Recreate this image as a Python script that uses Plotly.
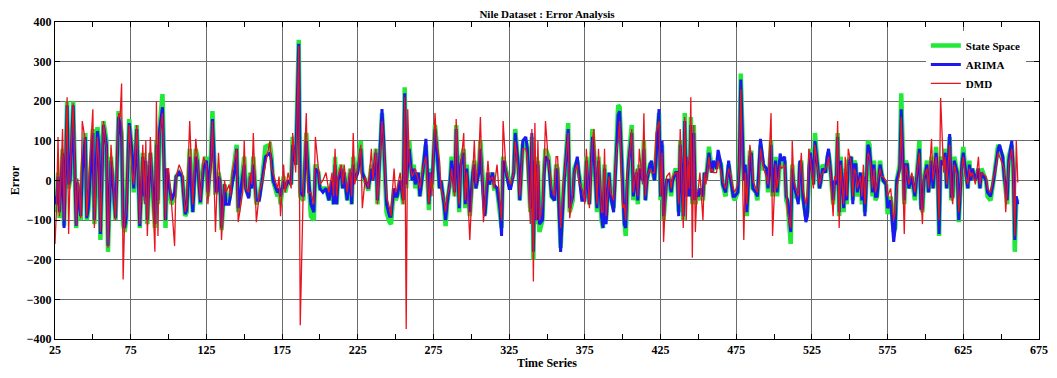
import plotly.graph_objects as go

# time index at the turning points
time_idx = [
    25,26,27,28,30,31,33,34,35,37, 39,40,41,42,43,45,46,47,48,50,
    51,53,54,55,57,59,60,62,63,65, 67,68,69,70,71,72,74,76,77,79,
    81,83,84,85,86,88,91,92,93,94, 96,98,99,100,102,104,105,107,109,111,
    112,114,116,118,119,121,123,125,
    126,128,129,131,132,133,134,135,137,138, 140,141,142,144,145,146,149,150,151,153,
    154,155,156,158,160,162,164,167,168,169, 172,173,174,176,177,179,181,182,184,186,
    187,189,191,192,194,196,197,199,200,202, 204,206,208,209,210,211,212,214,215,216,
    218,220,221,222,223,225,227,228,
    230,232,234,235,237,238,239,241,242,244, 246,247,248,249,250,251,253,255,256,257,
    258,259,261,262,263,265,266,268,270,272, 273,274,276,277,279,280,282,283,284,286,
    287,289,290,292,293,295,296,297,299,301, 302,303,305,306,308,309,311,312,314,315,
    317,319,320,321,323,325,326,328,329,331, 332,334,
    336,337,339,340,341,342,343,344,345,347, 348,349,351,352,353,355,356,357,359,361,
    362,364,365,367,368,370,371,373,374,375, 376,378,380,381,383,384,386,387,388,389,
    391,392,394,396,397,398,400,401,402,403, 404,406,407,409,410,411,413,414,415,416,
    418,419,421,422,424,425,426,427,429,431, 432,433,435,436,437,438,440,441,
    442,443,444,445,446,447,448,449,450,451, 453,454,455,457,458,459,460,462,463,465,
    466,468,470,471,473,474,476,477,478,480, 481,482,484,485,486,488,489,490,491,493,
    495,496,498,499,501,502,504,505,507,508, 509,511,512,513,514,515,516,517,518,519,
    521,522,523,524,526,527,529,530,531,532, 534,535,536,537,539,540,541,542,543,
    544,546,547,548,549,551,552,553,554,555, 557,558,559,560,561,562,563,564,565,566,
    567,568,570,571,572,574,575,577,579,580, 581,583,584,586,587,588,589,591,593,594,
    596,597,598,599,601,602,604,605,607,608, 609,610,612,613,614,616,617,618,619,621,
    622,624,625,626,628,629,630,631,633,635, 636,637,640,641,643,645,646,648,649,
    651,652,653,654,655,657,658,659,660,661,
]

state_space = [
    -30,-80,20,-95,80,-115,200,-20,0,200, -120,-10,-70,-100,30,120,-100,-75,-10,130,
    -110,135,100,-150,150,100,-180,60,0,-100, 175,150,120,-110,-130,-100,155,60,-30,140,
    -120,70,-50,40,-110,70,-120,100,-60,130, 218,-120,20,-10,-60,-40,10,20,10,-90,
    -80,80,-80,80,60,-60,40,60,
    -40,65,175,-30,-30,20,0,-125,-10,-40, -50,-30,0,40,90,-80,20,60,-20,-40,
    20,-20,60,-60,-40,10,85,90,60,0, -40,-20,-60,10,-30,0,-10,110,40,355,
    -40,-50,120,40,-90,-100,40,20,-20,-20, -20,-50,0,-60,60,-60,0,40,-20,20,
    -50,30,-60,60,0,30,100,20,
    0,-25,40,0,80,-60,20,170,100,-80, -105,-110,-60,-20,-50,-40,0,-60,235,-20,
    60,100,0,40,-20,20,-40,20,90,-75, 30,-20,140,100,-20,0,-60,-115,-60,0,
    60,-40,140,-80,50,80,-70,40,-90,20, 50,-20,30,100,-60,-85,20,-10,20,-20,
    -20,-80,-120,60,30,-10,-10,20,130,40, -50,90,
    100,80,-80,110,-200,60,-110,50,-130,-100, 20,80,60,0,-40,-50,40,30,-170,-20,
    50,145,-80,-50,30,50,20,-40,-50,-40, 60,-60,130,80,-80,60,-100,-120,40,-100,
    20,-40,-70,100,190,185,-30,-100,-140,0, 60,140,-50,20,-60,40,0,100,-50,0,
    40,40,0,60,170,-50,90,-100,0,0, -40,0,30,20,-80,100,-100,170,
    -40,60,-40,160,-60,140,-60,-40,-50,-20, -50,20,0,85,40,20,40,30,60,40,
    -10,-40,40,10,-40,-50,-30,50,270,0, 30,-90,70,70,-20,-30,-50,20,90,30,
    30,-30,100,-40,60,-40,50,40,50,-50, -60,-160,40,-10,-40,-40,-50,40,50,-40,
    -90,-80,40,80,-10,120,30,-20,0,40, 20,50,70,40,-60,0,-10,120,-90,
    60,-80,30,-60,50,60,-50,50,40,-40, 20,-60,20,-80,0,100,90,40,-40,50,
    -50,-40,50,20,0,-10,-85,-40,-130,-120, 0,40,220,-60,50,40,-20,10,-50,0,
    100,-60,-80,0,50,-30,60,-20,85,20, -140,60,40,80,-20,110,-50,-40,60,20,
    -105,40,85,40,-20,50,0,30,0,30, -20,30,0,-40,-50,0,30,90,80,
    60,10,-30,-60,60,90,30,-180,-50,-55,
]

arima = [
    -40,-60,10,-80,70,-120,190,-10,0,190, -115,-5,-60,-90,20,110,-95,-70,-5,120,
    -100,125,90,-135,140,90,-165,50,10,-95, 160,140,110,-100,-120,-95,145,65,-20,130,
    -115,60,-40,50,-100,70,-110,90,-50,125, 185,-100,30,-5,-50,-30,10,20,10,-85,
    -75,60,-80,60,50,-55,30,50,
    -30,50,155,-20,-30,10,0,-120,-10,-60, -60,-30,-10,30,80,-70,10,40,-20,-45,
    10,-20,40,-50,-50,0,60,70,50,0, -30,-20,-40,0,-20,0,-10,90,40,345,
    -30,-40,100,30,-60,-80,30,20,-20,-30, -20,-50,0,-60,40,-60,0,30,-20,20,
    -50,20,-60,40,0,20,80,20,
    0,-20,30,0,70,-50,20,180,110,-60, -90,-90,-50,-20,-40,-40,0,-50,220,-10,
    40,80,0,30,-10,20,-40,20,105,-60, 20,-10,130,90,-20,0,-60,-100,-60,0,
    50,-30,130,-70,40,70,-60,30,-80,20, 40,-20,20,80,-50,-90,20,-10,20,-10,
    -20,-75,-140,50,20,-20,-20,20,120,40, -50,100,
    110,80,-70,120,-180,50,-100,40,-110,-100, 10,60,50,0,-40,-50,30,20,-180,-20,
    40,130,-70,-40,20,60,20,-50,-50,-50, 50,-60,110,70,-70,50,-90,-120,30,-110,
    20,-40,-80,100,165,175,-40,-110,-120,0, 50,120,-40,20,-50,30,0,80,-50,0,
    40,50,0,50,180,-40,100,-90,0,0, -30,0,20,20,-90,90,-90,150,
    -40,50,-40,140,-50,120,-50,-30,-40,-20, -40,20,0,70,40,20,50,30,77,40,
    -10,-30,50,10,-40,-40,-30,40,255,0, 40,-80,60,70,-20,-30,-40,20,105,40,
    30,-20,90,-30,50,-30,68,50,60,-40, -50,-130,30,-10,-30,-40,-60,50,40,-40,
    -105,-90,30,70,-10,100,30,-20,0,30, 20,60,80,40,-50,0,-10,110,-80,
    50,-70,20,-50,40,60,-60,40,40,-30, 20,-50,10,-90,0,90,80,40,-30,40,
    -40,-40,40,20,0,-10,-70,-50,-155,-120, 0,30,180,-50,40,40,-20,10,-40,0,
    80,-70,-70,0,40,-30,50,-20,70,20, -135,50,40,70,-20,117,-40,-40,50,20,
    -100,40,70,40,-20,40,0,30,0,30, -20,20,0,-30,-40,0,30,80,90,
    60,10,-20,-50,50,100,30,-150,-40,-60,
]

dmd = [
    -160,-70,110,-90,130,-100,210,-135,20,195, -115,5,-30,-95,150,100,-90,-20,20,180,
    -120,110,50,-130,150,80,-170,90,30,-100, 170,160,245,-250,-100,-80,140,20,-10,140,
    -110,90,-60,100,-140,110,-180,200,-140,110, 170,-100,30,30,-60,-165,10,40,20,-80,
    -60,150,-60,105,60,-50,60,40,
    -60,40,150,-130,-20,70,0,-150,0,-30, -10,-40,20,60,80,-105,-30,100,-20,-30,
    20,-10,120,-105,-30,0,40,100,30,20, -20,10,-90,40,-30,20,-20,120,20,340,
    -365,-20,170,-30,-30,-60,110,20,-10,0, 20,-30,20,-40,80,-40,10,40,-10,40,
    -30,30,-40,120,-10,30,90,-70,
    10,-20,80,0,80,-60,20,150,100,-40, -70,-90,-20,30,-30,-20,20,-60,210,-375,
    180,50,10,20,30,0,-20,30,60,-60, 20,-40,170,100,50,-20,-50,-80,-40,-10,
    30,-40,155,-60,30,120,-50,20,-150,20, 100,-10,60,160,-105,-60,50,0,10,-20,
    40,-60,-100,150,20,0,-10,20,100,20, -40,80,
    80,60,-110,130,-255,145,-100,100,-100,-60, 20,150,40,20,-20,-40,60,60,-120,0,
    30,120,-95,-30,20,40,0,-20,-30,-60, 80,-70,100,130,-60,80,-80,-80,80,-90,
    10,-30,-50,80,100,150,-70,-60,-100,20, 40,130,-30,30,-40,80,-10,170,-40,10,
    30,20,20,120,150,-40,70,-155,10,20, -20,10,20,20,-60,130,-120,160,
    -100,60,-20,210,-195,140,-130,-30,-20,20, -100,20,-10,60,20,30,20,20,50,20,
    0,-20,30,20,-20,-30,-10,30,230,-150, 20,-60,90,60,0,-20,-30,0,80,30,
    10,-10,170,-140,40,-20,40,30,40,-30, -80,-120,100,0,-20,-30,-40,30,70,-20,
    -60,-40,80,50,-20,90,20,-10,10,20, 30,40,60,30,-90,10,0,150,-120,
    40,-60,60,-40,80,40,-40,30,20,-20, 10,-40,40,-60,10,70,60,30,-20,30,
    -30,-10,30,10,10,0,-40,-20,-100,-80, -20,20,160,-135,40,20,-10,20,-30,10,
    70,-40,-110,10,30,-20,105,0,60,10, -100,210,20,60,-10,90,-30,-60,40,10,
    -80,30,60,20,-10,30,10,20,-10,60, -10,20,10,-20,-30,10,20,70,60,
    40,30,-80,-30,40,80,20,-140,100,-5,
]

assert len(time_idx) == len(state_space) == len(arima) == len(dmd), (
    len(time_idx), len(state_space), len(arima), len(dmd))

x_ticks = list(range(25, 676, 50))
x_minor = list(range(50, 676, 50))
y_ticks = list(range(-400, 401, 100))

serif = "Liberation Serif"

fig = go.Figure()
fig.add_trace(go.Scatter(x=time_idx, y=state_space, mode="lines", name="State Space",
                         line=dict(color="#22E83A", width=4.5)))
fig.add_trace(go.Scatter(x=time_idx, y=arima, mode="lines", name="ARIMA",
                         line=dict(color="#1A1AEE", width=3)))
fig.add_trace(go.Scatter(x=time_idx, y=dmd, mode="lines", name="DMD",
                         line=dict(color="#E8141E", width=1.3)))

axis_common = dict(
    automargin=False,
    showgrid=True, gridcolor="#6a6a6a", gridwidth=1,
    showline=True, linecolor="black", linewidth=1, mirror="allticks",
    ticks="inside", ticklen=5, tickcolor="black",
    zeroline=False, ticklabeloverflow="allow",
    tickfont=dict(family=serif, size=12, color="black", weight="bold"),
)

# the page body has an 8px margin; keep the figure inside the window
fig.update_layout(
    width=1049, height=362,
    margin=dict(l=47, r=18, t=14, b=31),
    paper_bgcolor="white", plot_bgcolor="white",
    title=dict(text="Nile Dataset : Error Analysis", x=0.5, xref="paper",
               y=1 - 2 / 362, yref="container", yanchor="top", pad=dict(t=0, b=0),
               font=dict(family=serif, size=11, color="black", weight="bold")),
    xaxis=dict(range=[25, 675], tickvals=x_ticks,
               minor=dict(tickvals=x_minor, ticks="inside", ticklen=5,
                          tickcolor="black", showgrid=False),
               title=dict(text="Time Series", standoff=6,
                          font=dict(family=serif, size=12, color="black", weight="bold")),
               **axis_common),
    yaxis=dict(range=[-400, 400], tickvals=y_ticks,
               title=dict(text="Error", standoff=8,
                          font=dict(family=serif, size=12, color="black", weight="bold")),
               **axis_common),
    legend=dict(x=0.885, y=0.972, xanchor="left", yanchor="top",
                bgcolor="white", borderwidth=0, tracegroupgap=0,
                itemwidth=30,
                font=dict(family=serif, size=11, color="black", weight="bold")),
    showlegend=True,
)

fig.write_html("out.html")
